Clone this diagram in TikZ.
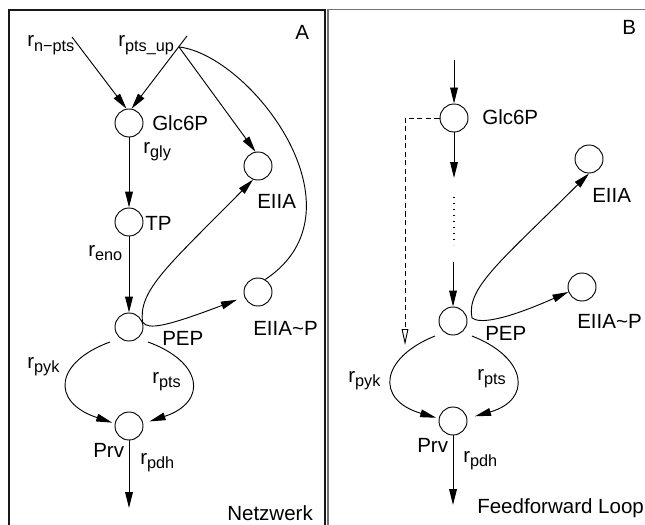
\documentclass[tikz,border=0pt]{standalone}
\usepackage{fontspec}
\setmainfont{Liberation Sans}
\usetikzlibrary{arrows.meta}
% reaction rate label: r with a lowered, smaller index
\newcommand\rsub[1]{r\raisebox{-3.6pt}{\fontsize{12.2}{13}\selectfont #1}}
\begin{document}
\begin{tikzpicture}[x=0.75pt,y=-0.75pt,
  every node/.style={font=\fontsize{15.4}{17}\selectfont},
  pool/.style={circle,draw,line width=0.7pt,minimum size=21pt,inner sep=0pt},
  lbl/.style={anchor=base west,inner sep=0pt},
  link/.style={line width=0.7pt},
  flow/.style={link,-{Triangle[length=12pt,width=5.8pt]}},
  feed/.style={link,dash pattern=on 3.8pt off 2.6pt,-{Triangle[open,length=12pt,width=5pt]}},
  dotline/.style={line width=0.8pt,dash pattern=on 0.8pt off 3.7pt},
  panelA/.style={line width=0.8pt,black!90},
  panelB/.style={line width=1pt,black!55}]
\useasboundingbox (0,0) rectangle (645,524);

% panel frames
\draw[panelA] (9,530) -- (9,10) -- (325,10) -- (325,530);
\draw[panelB] (328,530) -- (328,9.5) -- (650,9.5);

% ---------------- panel A: network ----------------
\node[pool] (g1) at (129,123) {};
\node[pool] (tp1) at (129,222) {};
\node[pool] (pep1) at (129,327) {};
\node[pool] (prv1) at (129,426) {};
\node[pool] (e1) at (258,166) {};
\node[pool] (ep1) at (258,292) {};

\coordinate (nin) at (72,37);
\coordinate (upin) at (187,36);
\coordinate (upj) at (179,47);
\coordinate (pk1) at (110,342);
\coordinate (pt1) at (148,342);
\coordinate (out1) at (129,508);

\draw[flow] (nin) -- (g1.100);
\draw[flow] (upin) -- (g1.80);
\draw[flow] (upj) -- (e1.100);
\draw[link] (upj) .. controls (250,55) and (370,210) .. (ep1.60);
\draw[flow] (g1) -- (tp1);
\draw[flow] (tp1) -- (pep1);
\draw[flow] (pep1.20) .. controls (138,290) and (170,264) .. (e1.250);
\draw[flow,shorten >=6pt] (pep1.20) .. controls (148,330) and (165,327) .. (ep1.200);
\draw[flow,shorten >=2pt] (pk1) .. controls (55,362) and (50,402) .. (prv1.170);
\draw[flow,shorten >=5pt] (pt1) .. controls (203,362) and (208,402) .. (prv1.10);
\draw[flow] (prv1) -- (out1);

\node[lbl] (lnpts) at (27,47) {\rsub{n−pts}};
\node[lbl] (lptsup) at (118,47) {\rsub{pts\_up}};
\node[lbl] (lg1) at (152,131) {Glc6P};
\node[lbl] (lgly) at (143,153) {\rsub{gly}};
\node[lbl] (ltp) at (145,230) {TP};
\node[lbl] (le1) at (257,208) {EIIA};
\node[lbl] (leno) at (88,256) {\rsub{eno}};
\node[lbl] (lpep1) at (162,345) {PEP};
\node[lbl] (lep1) at (253,335) {EIIA\textasciitilde P};
\node[lbl] (lpyk1) at (27,368) {\rsub{pyk}};
\node[lbl] (lpts1) at (152,383) {\rsub{pts}};
\node[lbl] (lprv1) at (93,457) {Prv};
\node[lbl] (lpdh1) at (140,464) {\rsub{pdh}};
\node[lbl] (lnet) at (227,520) {Netzwerk};
\node[lbl] (lA) at (295,40) {A};

% ---------------- panel B: feedforward loop ----------------
\node[pool] (g2) at (454,118) {};
\node[pool] (pep2) at (453,321) {};
\node[pool] (prv2) at (453,421) {};
\node[pool] (e2) at (589,159) {};
\node[pool] (ep2) at (582,287) {};

\coordinate (in2) at (454,60);
\coordinate (down2) at (454,178);
\coordinate (dt1) at (454,197);
\coordinate (dt2) at (454,245);
\coordinate (in3) at (453,262);
\coordinate (ffc) at (405,118);
\coordinate (fft) at (405,345);
\coordinate (cusp2) at (472,318);
\coordinate (pk2) at (435,336);
\coordinate (pt2) at (472,336);
\coordinate (out2) at (453,505);

\draw[flow] (in2) -- (g2);
\draw[flow] (g2) -- (down2);
\draw[dotline] (dt1) -- (dt2);
\draw[flow] (in3) -- (pep2);
\draw[feed] (g2) -- (ffc) -- (fft);
\draw[flow] (cusp2) .. controls (466,288) and (500,262) .. (e2.south);
\draw[flow] (cusp2) .. controls (480,324) and (505,320) .. (ep2.200);
\draw[flow,shorten >=2pt] (pk2) .. controls (380,358) and (375,400) .. (prv2.170);
\draw[flow,shorten >=6pt] (pt2) .. controls (528,358) and (532,400) .. (prv2.10);
\draw[flow] (prv2) -- (out2);

\node[lbl] (lg2) at (482,125) {Glc6P};
\node[lbl] (le2) at (592,202) {EIIA};
\node[lbl] (lep2) at (577,328) {EIIA\textasciitilde P};
\node[lbl] (lpep2) at (485,340) {PEP};
\node[lbl] (lpyk2) at (348,382) {\rsub{pyk}};
\node[lbl] (lpts2) at (477,380) {\rsub{pts}};
\node[lbl] (lprv2) at (417,452) {Prv};
\node[lbl] (lpdh2) at (463,462) {\rsub{pdh}};
\node[lbl] (lff) at (477,513) {Feedforward Loop};
\node[lbl] (lB) at (622,35) {B};
\end{tikzpicture}
\end{document}
